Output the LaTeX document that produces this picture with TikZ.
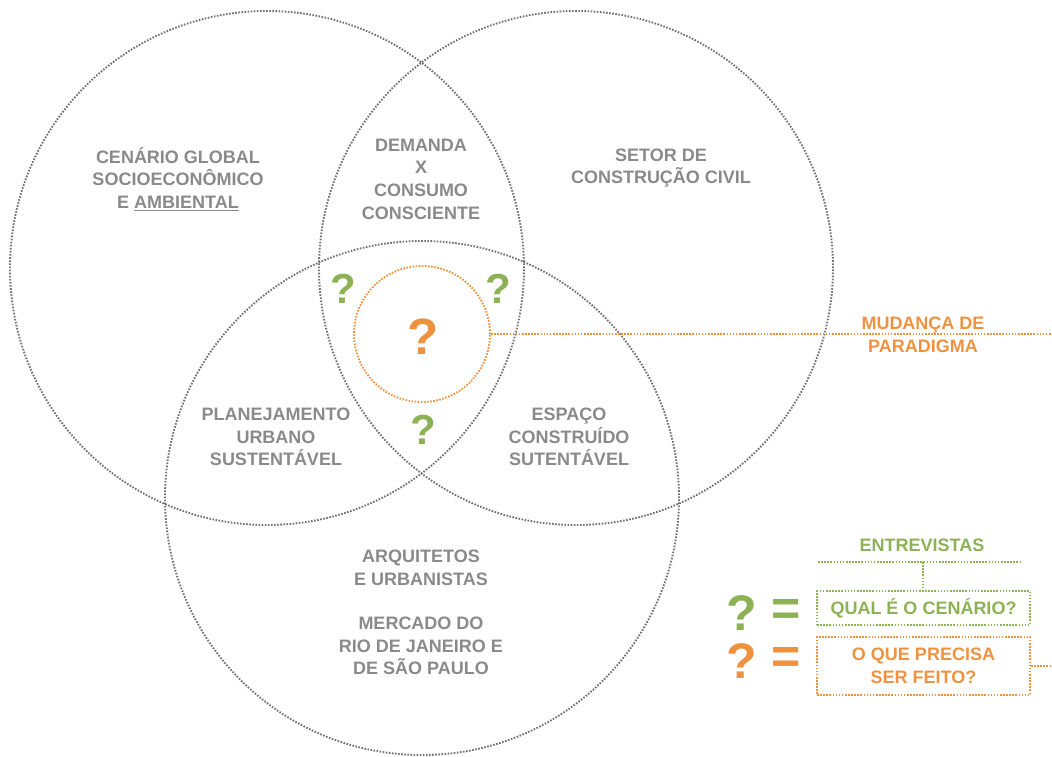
\documentclass[tikz,border=0pt]{standalone}
\usepackage{fontspec}
\setmainfont{Liberation Sans}
\definecolor{txtgray}{HTML}{8A8A8A}
\definecolor{circgray}{HTML}{727272}
\definecolor{qgreen}{HTML}{8DB255}
\definecolor{qorange}{HTML}{EF9240}
\begin{document}
\begin{tikzpicture}[x=1pt,y=-1pt,
  dotline/.style={line width=1.9pt, dash pattern=on 1.6pt off 1.5pt},
  venn/.style={circle, draw=circgray, dotline, minimum size=514pt, inner sep=0pt},
  lbl/.style={text=txtgray, align=center, font=\fontsize{18}{22.7}\selectfont\bfseries},
  qg/.style={text=qgreen, font=\fontsize{42}{42}\selectfont\bfseries, inner sep=0pt},
  qo/.style={text=qorange, font=\fontsize{51}{51}\selectfont\bfseries, inner sep=0pt},
  legq/.style={font=\fontsize{50}{50}\selectfont\bfseries, inner sep=0pt},
  legbox/.style={draw, dotline, minimum width=213pt, align=center,
    font=\fontsize{18}{22.7}\selectfont\bfseries}]
\useasboundingbox (0,0) rectangle (1052,756);

% Venn circles
\node[venn] (A) at (267,268) {};
\node[venn] (B) at (576,268) {};
\node[venn] (C) at (422,498) {};

% central orange circle and connector
\node[circle, draw=qorange, dotline, minimum size=136pt, inner sep=0pt] (O) at (422,334) {};
\coordinate (edgeR) at (1052,334);
\draw[qorange, dotline] (O.east) -- (edgeR);

% labels
\node[lbl] (tA) at (178,179) {CENÁRIO GLOBAL\\SOCIOECONÔMICO\\E \underline{AMBIENTAL}};
\node[lbl] (tAB) at (421,179) {DEMANDA\\X\\CONSUMO\\CONSCIENTE};
\node[lbl] (tB) at (661,168) {SETOR DE\\CONSTRUÇÃO CIVIL};
\node[lbl] (tAC) at (276,437) {PLANEJAMENTO\\URBANO\\SUSTENTÁVEL};
\node[lbl] (tBC) at (569,437) {ESPAÇO\\CONSTRUÍDO\\SUTENTÁVEL};
\node[lbl] (tC1) at (421,568) {ARQUITETOS\\E URBANISTAS};
\node[lbl] (tC2) at (421,646) {MERCADO DO\\RIO DE JANEIRO E\\DE SÃO PAULO};

% question marks
\node[qg] (q1) at (343,289) {?};
\node[qg] (q2) at (498,289) {?};
\node[qg] (q3) at (423,430) {?};
\node[qo] (q0) at (423,337) {?};

\node[lbl, text=qorange] (mp) at (923,335) {MUDANÇA DE\\PARADIGMA};

% legend
\node[lbl, text=qgreen] (ent) at (922,545) {ENTREVISTAS};
\coordinate (gl) at (818,562);
\coordinate (gr) at (1021,562);
\coordinate (gm) at (923,562);
\draw[qgreen, dotline] (gl) -- (gr);
\node[legbox, draw=qgreen, text=qgreen, minimum height=34pt] (bg) at (923.5,608) {QUAL É O CENÁRIO?};
\draw[qgreen, dotline] (gm) -- (bg.north -| gm);
\node[legbox, draw=qorange, text=qorange, minimum height=58pt] (bo) at (923.5,666) {O QUE PRECISA\\SER FEITO?};
\coordinate (edgeR2) at (1052,666);
\draw[qorange, dotline] (bo.east) -- (edgeR2);

\node[legq, text=qgreen] (lq1) at (742,613) {?};
\node[legq, text=qgreen] (le1) at (786,612) {=};
\node[legq, text=qorange] (lq2) at (742,661) {?};
\node[legq, text=qorange] (le2) at (786,660) {=};
\end{tikzpicture}
\end{document}
